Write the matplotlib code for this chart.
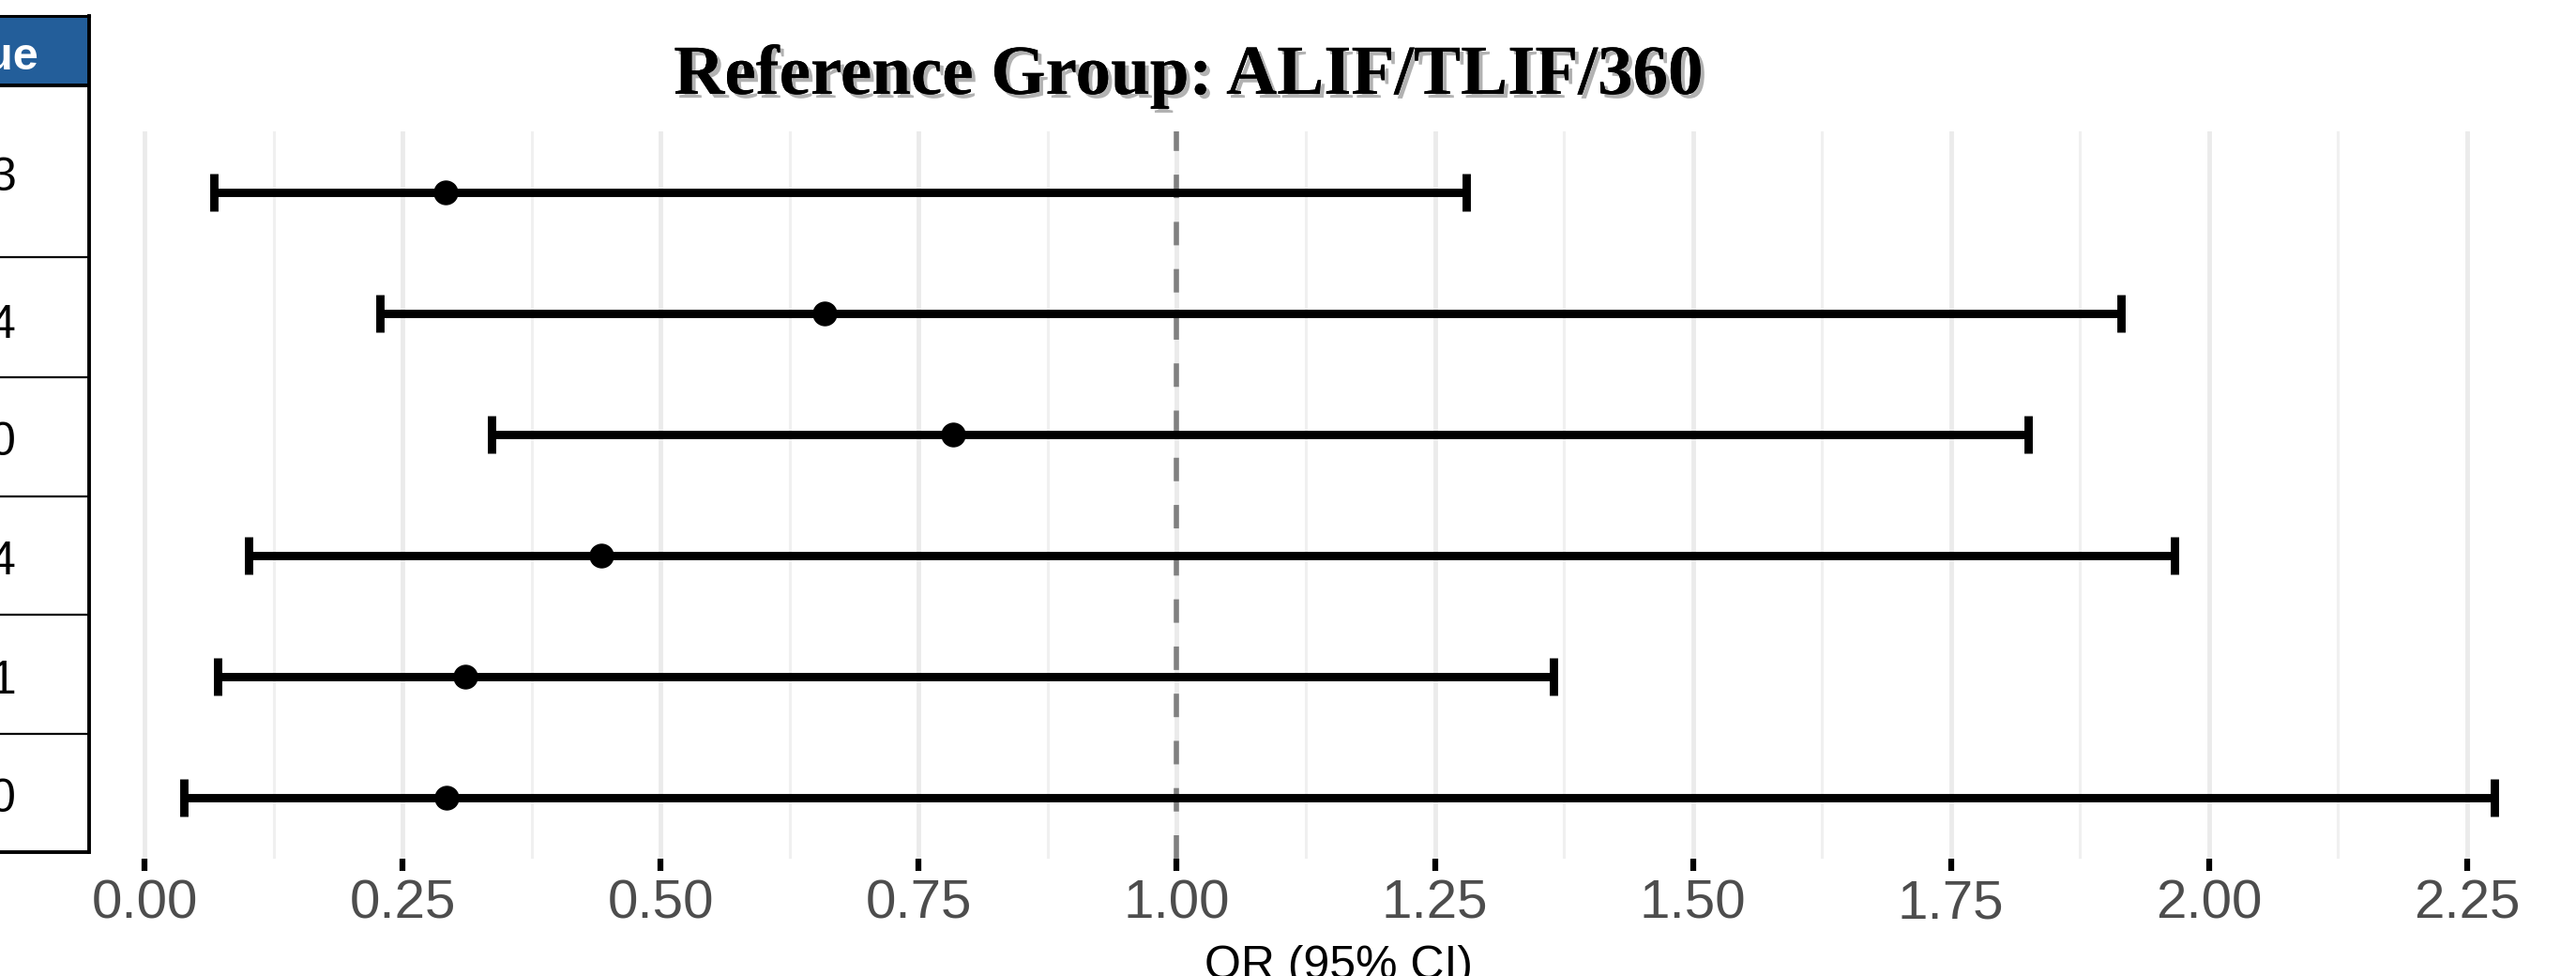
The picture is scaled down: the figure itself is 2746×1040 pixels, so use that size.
import matplotlib
matplotlib.use("Agg")
import matplotlib.pyplot as plt
import matplotlib.patheffects as pe
from matplotlib.ticker import MultipleLocator, FormatStrFormatter
import numpy as np

# ---- data ----
or_vals = [0.292, 0.659, 0.783, 0.443, 0.311, 0.293]
ci_low = [0.067, 0.228, 0.336, 0.101, 0.071, 0.038]
ci_high = [1.280, 1.915, 1.825, 1.967, 1.365, 2.276]
p_cells = ["3", "4", "0", "4", "1", "0"]   # only visible trailing characters
header_text = "P-value"
title_text = "Reference Group: ALIF/TLIF/360"
xlabel_text = "OR (95% CI)"
x_ticks = [0.0, 0.25, 0.5, 0.75, 1.0, 1.25, 1.5, 1.75, 2.0, 2.25]

W, H = 2746, 1040
DPI = 100
fig = plt.figure(figsize=(W / DPI, H / DPI), dpi=DPI)
fig.patch.set_facecolor("white")

def fx(px):
    return px / W

def fy(py):
    return 1 - py / H

# ---- forest axes ----
ax_left_px, ax_right_px = 100, W
ax_top_px, ax_bot_px = 140, 915
ax = fig.add_axes([fx(ax_left_px), fy(ax_bot_px), fx(ax_right_px - ax_left_px),
                   (ax_bot_px - ax_top_px) / H])
x0_px, ppu = 154, 1100.4
ax.set_xlim((ax_left_px - x0_px) / ppu, (ax_right_px - x0_px) / ppu)
n = len(or_vals)
ax.set_ylim(0.5, n + 0.5)
ypos = np.arange(n, 0, -1)

ax.set_xticks(x_ticks)
ax.xaxis.set_major_formatter(FormatStrFormatter("%.2f"))
ax.xaxis.set_minor_locator(MultipleLocator(0.125))
ax.grid(True, axis="x", which="major", color="#EBEBEB", lw=3.5, zorder=0)
ax.grid(True, axis="x", which="minor", color="#F0F0F0", lw=2.2, zorder=0)
ax.set_axisbelow(True)
for s in ax.spines.values():
    s.set_visible(False)
ax.tick_params(axis="y", left=False, labelleft=False)
ax.tick_params(axis="x", which="major", length=9.5, width=4.5, color="black",
               pad=6, labelsize=42, labelcolor="#4D4D4D")
ax.tick_params(axis="x", which="minor", length=0)
for lab in ax.get_xticklabels():
    lab.set_fontfamily("Liberation Sans")

ax.axvline(1.0, color="#808080", lw=4, dashes=(4.5, 4.55), zorder=1)

xerr = [np.array(or_vals) - np.array(ci_low), np.array(ci_high) - np.array(or_vals)]
ax.errorbar(or_vals, ypos, xerr=xerr, fmt="o", color="black", ms=18,
            elinewidth=6.4, capsize=14.5, capthick=6.4, zorder=3)

# ---- title ----
fig.text(fx(1267), fy(100), title_text, ha="center", va="baseline",
         fontsize=54, fontweight="bold", fontfamily="Liberation Serif",
         color="black",
         path_effects=[pe.withSimplePatchShadow(offset=(3, -3), shadow_rgbFace="#555555", alpha=0.45),
                       pe.Normal()])

# ---- x label ----
fig.text(fx(1427), fy(1043), xlabel_text, ha="center", va="baseline",
         fontsize=36, fontfamily="Liberation Sans", color="black")

# ---- table (cut off at left) ----
tab = fig.add_axes([0, fy(910), fx(98), (910 - 15) / H])
tab.set_xlim(0, 98)
tab.set_ylim(910, 15)
tab.axis("off")
header_top, header_bot = 17, 91
row_edges = [91, 274, 402, 529, 655, 782, 908]
row_base = [203, 360, 485, 612, 739, 865]
tab.add_patch(plt.Rectangle((-5, header_top), 100, header_bot - header_top,
                            facecolor="#235E9A", edgecolor="none", zorder=1))
tab.plot([-5, 95], [header_top, header_top], color="black", lw=2.2, zorder=3)
for i, e in enumerate(row_edges):
    lw = 2.8 if (i == 0 or i == len(row_edges) - 1) else 1.6
    tab.plot([-5, 95], [e, e], color="black", lw=lw, zorder=3, solid_capstyle="butt")
tab.plot([95, 95], [header_top, row_edges[-1]], color="black", lw=2.8, zorder=3)
tab.text(42, 74, header_text, ha="right", va="baseline", fontsize=35,
         fontweight="bold", color="white", fontfamily="Liberation Sans", zorder=4,
         clip_on=False)
for t, b in zip(p_cells, row_base):
    tab.text(17, b, t, ha="right", va="baseline", fontsize=36, color="black",
             fontfamily="Liberation Sans", zorder=4)

fig.savefig("out.png", dpi=DPI, facecolor="white")
